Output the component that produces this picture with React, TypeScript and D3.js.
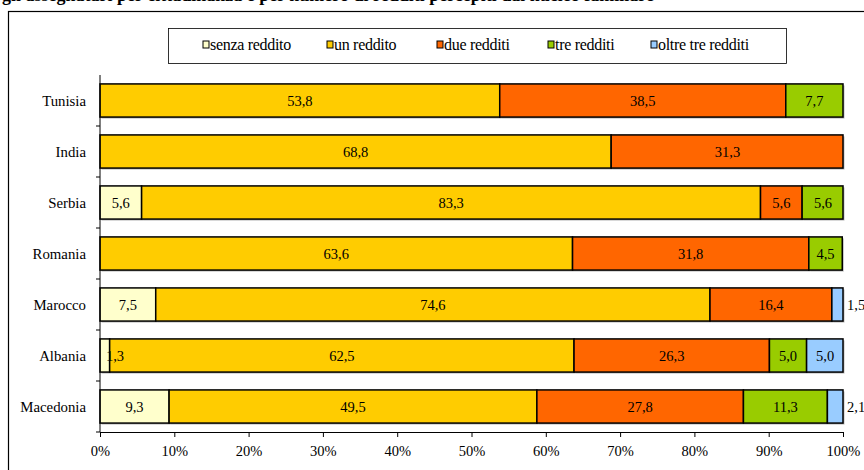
import React, { useEffect, useRef } from "react";
import * as d3 from "d3";

const countries = ["Tunisia", "India", "Serbia", "Romania", "Marocco", "Albania", "Macedonia"];
const seriesNames = ["senza reddito", "un reddito", "due redditi", "tre redditi", "oltre tre redditi"];
const seriesColors = ["#FFFFCC", "#FFCC00", "#FF6600", "#99CC00", "#99CCFF"];

const senzaReddito = [0, 0, 5.6, 0, 7.5, 1.3, 9.3];
const unReddito = [53.8, 68.8, 83.3, 63.6, 74.6, 62.5, 49.5];
const dueRedditi = [38.5, 31.3, 5.6, 31.8, 16.4, 26.3, 27.8];
const treRedditi = [7.7, 0, 5.6, 4.5, 0, 5.0, 11.3];
const oltreTre = [0, 0, 0, 0, 1.5, 5.0, 2.1];

const xTicks = [0, 10, 20, 30, 40, 50, 60, 70, 80, 90, 100];

const title =
  "gli assegnatari per cittadinanza e per numero di redditi percepiti dal nucleo familiare";

const App: React.FC = () => {
  const svgRef = useRef<SVGSVGElement>(null);

  useEffect(() => {
    if (!svgRef.current) return;
    const svg = d3.select(svgRef.current);
    svg.selectAll("*").remove();

    const font = "'Liberation Serif', 'Times New Roman', serif";
    const series = [senzaReddito, unReddito, dueRedditi, treRedditi, oltreTre];

    // title (cut off at the top, as in the scanned page) and outer frame
    svg
      .append("text")
      .attr("x", 2)
      .attr("y", 1)
      .style("font-family", font)
      .style("font-weight", "bold")
      .style("font-size", "18px")
      .text(title);

    svg
      .append("rect")
      .attr("x", 8.5)
      .attr("y", 11.5)
      .attr("width", 900)
      .attr("height", 500)
      .attr("fill", "none")
      .attr("stroke", "#000")
      .attr("stroke-width", 1.2);

    // legend
    const lg = svg.append("g");
    lg.append("rect")
      .attr("x", 168.5)
      .attr("y", 28.5)
      .attr("width", 618)
      .attr("height", 35)
      .attr("fill", "#fff")
      .attr("stroke", "#000")
      .attr("stroke-width", 0.8);
    const legendX = [203, 327, 437, 548, 651];
    seriesNames.forEach((name, i) => {
      lg.append("rect")
        .attr("x", legendX[i])
        .attr("y", 41)
        .attr("width", 6)
        .attr("height", 7)
        .attr("fill", seriesColors[i])
        .attr("stroke", "#000")
        .attr("stroke-width", 1);
      lg.append("text")
        .attr("x", legendX[i] + 7)
        .attr("y", 49.5)
        .style("font-family", font)
        .style("font-size", "16px")
        .style("letter-spacing", "-0.3px")
        .text(name);
    });

    // scales
    const x = d3.scaleLinear().domain([0, 100]).range([100, 843]);
    const y = d3
      .scaleBand()
      .domain(countries)
      .range([75, 432])
      .paddingInner(0.35)
      .paddingOuter(0.175);
    const yOuter = d3.scaleBand().domain(countries).range([75, 432]);

    // stacked data
    const rows = countries.map((c, i) => {
      let acc = 0;
      return series.map((s, k) => {
        const v = s[i];
        const seg = { country: c, k, v, x0: acc, x1: acc + v };
        acc += v;
        return seg;
      });
    });

    const g = svg.append("g");
    rows.forEach((segs) => {
      segs
        .filter((s) => s.v > 0)
        .forEach((s) => {
          const x0 = x(s.x0);
          const x1 = Math.min(x(s.x1), x(100));
          const yy = y(s.country) || 0;
          // shadow
          g.append("rect")
            .attr("x", x0 + 1.5)
            .attr("y", yy + 1.5)
            .attr("width", x1 - x0)
            .attr("height", y.bandwidth())
            .attr("fill", "#bbb");
        });
    });
    rows.forEach((segs) => {
      segs
        .filter((s) => s.v > 0)
        .forEach((s) => {
          const x0 = x(s.x0);
          const x1 = Math.min(x(s.x1), x(100));
          const yy = y(s.country) || 0;
          g.append("rect")
            .attr("x", x0)
            .attr("y", yy)
            .attr("width", x1 - x0)
            .attr("height", y.bandwidth())
            .attr("fill", seriesColors[s.k])
            .attr("stroke", "#000")
            .attr("stroke-width", 1.5);
        });
    });

    // data labels
    rows.forEach((segs) => {
      segs
        .filter((s) => s.v > 0)
        .forEach((s) => {
          const yy = (y(s.country) || 0) + y.bandwidth() / 2 + 5;
          const label = d3.format(".1f")(s.v).replace(".", ",");
          const small = s.v < 2.5 && s.k === 4;
          let cx = (x(s.x0) + x(s.x1)) / 2;
          if (s.k === 0) cx = Math.max(cx, x(0) + 15);
          g.append("text")
            .attr("x", small ? x(100) + 4 : cx)
            .attr("y", yy)
            .attr("text-anchor", small ? "start" : "middle")
            .style("font-family", font)
            .style("font-size", "14.5px")
            .text(label);
        });
    });

    // y axis
    const ya = svg.append("g");
    ya.append("line")
      .attr("x1", 100)
      .attr("x2", 100)
      .attr("y1", 75)
      .attr("y2", 432)
      .attr("stroke", "#000")
      .attr("stroke-width", 1);
    countries.forEach((c) => {
      const top = yOuter(c) || 0;
      ya.append("line")
        .attr("x1", 96)
        .attr("x2", 100)
        .attr("y1", top + yOuter.bandwidth())
        .attr("y2", top + yOuter.bandwidth())
        .attr("stroke", "#000");
      ya.append("text")
        .attr("x", 86)
        .attr("y", (y(c) || 0) + y.bandwidth() / 2 + 5)
        .attr("text-anchor", "end")
        .style("font-family", font)
        .style("font-size", "14.8px")
        .text(c);
    });

    // x axis
    const xa = svg
      .append("g")
      .attr("transform", "translate(0,432)")
      .call(
        d3
          .axisBottom(x)
          .tickValues(xTicks)
          .tickSize(5)
          .tickSizeOuter(0)
          .tickFormat((d) => `${d}%`)
      );
    xa.select(".domain").attr("stroke", "#000");
    xa.selectAll("text")
      .attr("dy", "0.71em")
      .attr("y", 14)
      .style("font-family", font)
      .style("font-size", "14.5px");
  }, []);

  return (
    <svg
      ref={svgRef}
      width={864}
      height={470}
      style={{ position: "absolute", left: 0, top: 0, background: "#fff" }}
    />
  );
};

export default App;
